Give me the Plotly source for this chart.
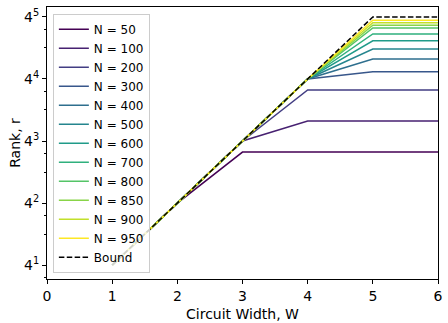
import math

import plotly.graph_objects as go
from plotly.colors import sample_colorscale

# circuit widths and the rank values
widths = [1, 2, 3, 4, 5, 6]
sizes = [50, 100, 200, 300, 400, 500, 600, 700, 800, 850, 900, 950]
bound = [4, 16, 64, 256, 1024, 1024]
ranks = {
    50: [4, 16, 50, 50, 50, 50],
    100: [4, 16, 64, 100, 100, 100],
    200: [4, 16, 64, 200, 200, 200],
    300: [4, 16, 64, 256, 300, 300],
    400: [4, 16, 64, 256, 400, 400],
    500: [4, 16, 64, 256, 500, 500],
    600: [4, 16, 64, 256, 600, 600],
    700: [4, 16, 64, 256, 700, 700],
    800: [4, 16, 64, 256, 800, 800],
    850: [4, 16, 64, 256, 850, 850],
    900: [4, 16, 64, 256, 900, 900],
    950: [4, 16, 64, 256, 950, 950],
}
major_ticks = [4, 16, 64, 256, 1024]
major_text = ["4<sup>1</sup>", "4<sup>2</sup>", "4<sup>3</sup>", "4<sup>4</sup>", "4<sup>5</sup>"]

colors = sample_colorscale("Viridis", [i / (len(sizes) - 1) for i in range(len(sizes))])

fig = go.Figure()
for n, c in zip(sizes, colors):
    fig.add_trace(go.Scatter(x=widths, y=ranks[n], mode="lines", name=f"N = {n}",
                             line=dict(color=c, width=1.5)))
fig.add_trace(go.Scatter(x=widths, y=bound, mode="lines", name="Bound",
                         line=dict(color="black", width=1.5, dash="5.5px,2.4px")))

# minor ticks at 2*4^k and 3*4^k like matplotlib's log-4 locator
minor_vals = [m * 4 ** k for k in range(0, 6) for m in (2, 3)]

lg = math.log10(4)
axis_style = dict(showline=True, linecolor="black", linewidth=1, mirror=True,
                  ticks="outside", ticklen=4, tickcolor="black", showgrid=False,
                  zeroline=False, automargin=False,
                  tickfont=dict(size=14, color="black"))

fig.update_layout(
    width=448, height=323,
    margin=dict(l=47, r=10, t=7, b=44, autoexpand=False),
    paper_bgcolor="white", plot_bgcolor="white",
    font=dict(family="DejaVu Sans", size=14, color="black"),
    xaxis=dict(range=[0, 6], tickvals=[0, 1, 2, 3, 4, 5, 6],
               title=dict(text="Circuit Width, W", font=dict(size=14), standoff=6),
               **axis_style),
    yaxis=dict(type="log", range=[0.776 * lg, 5.16 * lg],
               tickvals=major_ticks, ticktext=major_text,
               minor=dict(tickvals=minor_vals, ticks="outside", ticklen=2,
                          tickcolor="black", showgrid=False),
               title=dict(text="Rank, r", font=dict(size=14), standoff=0),
               **axis_style),
    legend=dict(x=0.015, y=0.975, xanchor="left", yanchor="top",
                bgcolor="rgba(255,255,255,0.8)", bordercolor="#cccccc", borderwidth=1,
                font=dict(size=12), tracegroupgap=0, itemwidth=30),
    showlegend=True,
)

# page body has a default 8px margin that shifts the figure
fig.write_html("out.html", config={"displayModeBar": False},
               post_script="document.body.style.margin='0px';")
